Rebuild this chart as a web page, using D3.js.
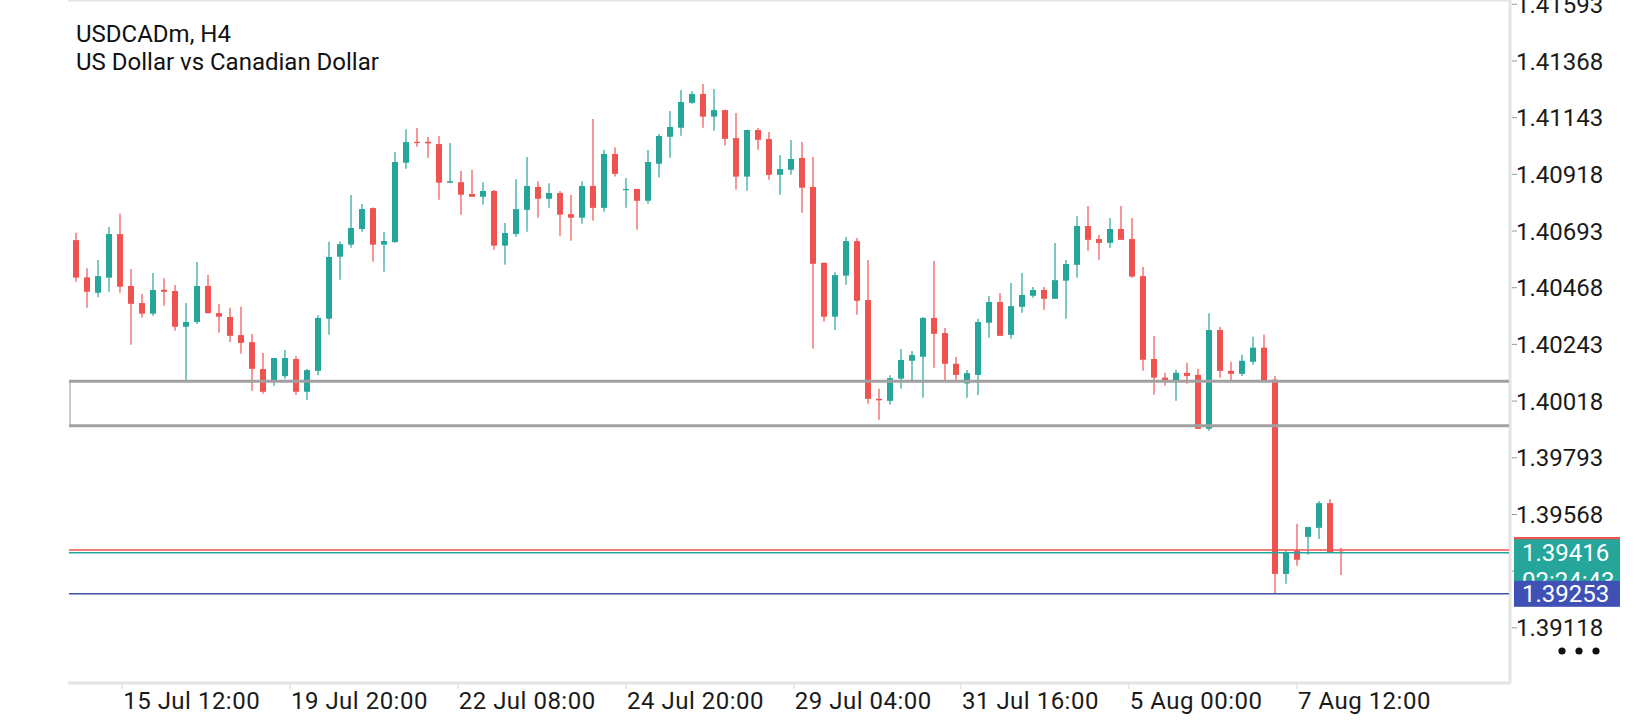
<!DOCTYPE html>
<html>
<head>
<meta charset="utf-8">
<script src="https://cdn.jsdelivr.net/npm/d3@7"></script>
<style>
  body { margin: 0; background: #fff; }
  text { font-family: Roboto, "Noto Sans", sans-serif; }
</style>
</head>
<body>
<svg class="chart" width="1640" height="720"></svg>
<script>

// USDCADm H4 candles
openP = [1.40657,1.40509,1.40448,1.40508,1.40681,1.40475,1.40407,1.40365,1.40460,1.40455,
  1.40313,1.40332,1.40475,1.40367,1.40352,1.40280,1.40252,1.40145,1.40101,1.40117,
  1.40185,1.40055,1.40138,1.40345,1.40591,1.40639,1.40701,1.40784,1.40639,1.40649,
  1.40964,1.41047,1.41047,1.41038,1.40885,1.40887,1.40840,1.40829,1.40852,1.40635,
  1.40681,1.40777,1.40868,1.40821,1.40844,1.40760,1.40746,1.40872,1.40785,1.40999,
  1.40857,1.40860,1.40813,1.40960,1.41067,1.41103,1.41202,1.41237,1.41147,1.41173,
  1.41062,1.40909,1.41094,1.41058,1.40916,1.40936,1.40983,1.40868,1.40567,1.40353,
  1.40516,1.40653,1.40419,1.40027,1.40019,1.40107,1.40178,1.40194,1.40348,1.40288,
  1.40166,1.40088,1.40122,1.40329,1.40411,1.40281,1.40392,1.40436,1.40459,1.40424,
  1.40496,1.40559,1.40713,1.40661,1.40646,1.40701,1.40661,1.40514,1.40185,1.40111,
  1.40101,1.40130,1.40122,1.39908,1.40300,1.40138,1.40126,1.40174,1.40230,1.40103,
  1.39332,1.39423,1.39479,1.39515,1.39613,1.39420]
highP = [1.40686,1.40545,1.40578,1.40709,1.40762,1.40542,1.40443,1.40526,1.40506,1.40479,
  1.40407,1.40570,1.40518,1.40403,1.40388,1.40392,1.40284,1.40209,1.40190,1.40221,
  1.40197,1.40145,1.40359,1.40650,1.40652,1.40836,1.40800,1.40786,1.40690,1.41007,
  1.41097,1.41102,1.41066,1.41070,1.41042,1.40931,1.40935,1.40887,1.40856,1.40725,
  1.40899,1.40987,1.40891,1.40883,1.40852,1.40836,1.40891,1.41138,1.41015,1.41026,
  1.40903,1.40861,1.41015,1.41078,1.41169,1.41253,1.41248,1.41277,1.41257,1.41174,
  1.41161,1.41095,1.41102,1.41086,1.40995,1.41054,1.41046,1.40987,1.40568,1.40529,
  1.40669,1.40665,1.40578,1.40067,1.40121,1.40225,1.40217,1.40352,1.40574,1.40308,
  1.40193,1.40141,1.40345,1.40435,1.40447,1.40487,1.40526,1.40471,1.40471,1.40645,
  1.40578,1.40752,1.40792,1.40677,1.40745,1.40792,1.40745,1.40550,1.40276,1.40130,
  1.40142,1.40170,1.40146,1.40367,1.40313,1.40174,1.40202,1.40273,1.40281,1.40118,
  1.39428,1.39531,1.39519,1.39621,1.39629,1.39436]
lowP = [1.40492,1.40388,1.40430,1.40452,1.40448,1.40242,1.40349,1.40357,1.40396,1.40297,
  1.40101,1.40324,1.40365,1.40289,1.40253,1.40206,1.40059,1.40047,1.40079,1.40107,
  1.40042,1.40022,1.40121,1.40281,1.40500,1.40627,1.40690,1.40571,1.40531,1.40646,
  1.40940,1.41028,1.40984,1.40817,1.40884,1.40758,1.40829,1.40797,1.40619,1.40559,
  1.40670,1.40690,1.40746,1.40785,1.40674,1.40654,1.40722,1.40734,1.40770,1.40909,
  1.40785,1.40698,1.40801,1.40905,1.40984,1.41071,1.41198,1.41103,1.41091,1.41032,
  1.40857,1.40853,1.41016,1.40897,1.40837,1.40916,1.40766,1.40226,1.40333,1.40300,
  1.40480,1.40361,1.40007,1.39944,1.40003,1.40067,1.40101,1.40031,1.40150,1.40101,
  1.40101,1.40031,1.40042,1.40269,1.40276,1.40265,1.40369,1.40428,1.40381,1.40423,
  1.40345,1.40508,1.40615,1.40579,1.40627,1.40657,1.40508,1.40138,1.40043,1.40079,
  1.40019,1.40087,1.39908,1.39900,1.40111,1.40101,1.40118,1.40162,1.40094,1.39253,
  1.39293,1.39364,1.39408,1.39471,1.39415,1.39328]
closeP = [1.40508,1.40452,1.40514,1.40681,1.40472,1.40404,1.40365,1.40459,1.40452,1.40313,
  1.40332,1.40475,1.40367,1.40353,1.40277,1.40249,1.40146,1.40055,1.40189,1.40189,
  1.40055,1.40141,1.40348,1.40590,1.40641,1.40705,1.40780,1.40639,1.40653,1.40967,
  1.41046,1.41043,1.41041,1.40885,1.40891,1.40837,1.40829,1.40852,1.40635,1.40685,
  1.40780,1.40872,1.40821,1.40844,1.40758,1.40746,1.40872,1.40785,1.40999,1.40920,
  1.40860,1.40813,1.40967,1.41070,1.41106,1.41205,1.41237,1.41147,1.41173,1.41059,
  1.40909,1.41094,1.41055,1.40916,1.40939,1.40979,1.40865,1.40563,1.40353,1.40518,
  1.40653,1.40416,1.40027,1.40021,1.40109,1.40181,1.40201,1.40348,1.40285,1.40166,
  1.40122,1.40129,1.40332,1.40411,1.40277,1.40395,1.40439,1.40459,1.40424,1.40498,
  1.40562,1.40713,1.40658,1.40646,1.40701,1.40658,1.40512,1.40182,1.40111,1.40101,
  1.40130,1.40118,1.39908,1.40300,1.40138,1.40126,1.40178,1.40230,1.40095,1.39332,
  1.39416,1.39388,1.39518,1.39613,1.39416,1.39416]

priceTicks = [1.41593,1.41368,1.41143,1.40918,1.40693,1.40468,1.40243,1.40018,1.39793,1.39568,1.39343,1.39118]
timeLabels = ['15 Jul 12:00','19 Jul 20:00','22 Jul 08:00','24 Jul 20:00','29 Jul 04:00','31 Jul 16:00','5 Aug 00:00','7 Aug 12:00']
timeAt = [4.2, 19.45, 34.7, 50, 65.25, 80.45, 95.7, 111]   // bar index under each label

zoneTop = 1.40097
zoneBottom = 1.39920
bid = 1.39416
ask = 1.39427
lowLine = 1.39253
timer = '02:24:43'

up = '#26a69a'
down = '#ef5350'
border = '#e4e4e4'

left = 69
right = 1510
top = 2
bottom = 683

svg = d3.select('.chart')

x = d3.scaleLinear().domain([0, openP.length - 1]).range([76, 76 + 11 * (openP.length - 1)])
y = d3.scaleLinear().domain([1.38899, 1.41610]).range([bottom, 0])

// frame: top, right and bottom rules
svg.append('line').attr('x1', left - 1).attr('x2', right).attr('y1', top).attr('y2', top)
  .attr('stroke', border).attr('stroke-width', 3)
svg.append('line').attr('x1', right).attr('x2', right).attr('y1', top - 1).attr('y2', bottom + 1)
  .attr('stroke', border).attr('stroke-width', 3)
svg.append('line').attr('x1', left - 1).attr('x2', right).attr('y1', bottom).attr('y2', bottom)
  .attr('stroke', border).attr('stroke-width', 3)

// candles
candles = d3.range(openP.length).map(i => ({
  i: i, o: openP[i], h: highP[i], l: lowP[i], c: closeP[i]
}))

g = svg.append('g')
g.selectAll('line.wick')
  .data(candles)
  .join('line')
    .attr('class', 'wick')
    .attr('x1', d => x(d.i)).attr('x2', d => x(d.i))
    .attr('y1', d => y(d.h)).attr('y2', d => y(d.l))
    .attr('stroke', d => d.c >= d.o ? up : down)
    .attr('stroke-width', 1.2)
g.selectAll('rect.body')
  .data(candles)
  .join('rect')
    .attr('class', 'body')
    .attr('x', d => x(d.i) - 3)
    .attr('width', 6)
    .attr('y', d => y(Math.max(d.o, d.c)))
    .attr('height', d => Math.max(1.2, Math.abs(y(d.o) - y(d.c))))
    .attr('fill', d => d.c >= d.o ? up : down)

// grey zone
svg.append('line').attr('x1', left + 1).attr('x2', left + 1)
  .attr('y1', y(zoneTop)).attr('y2', y(zoneBottom))
  .attr('stroke', '#b8b8b8').attr('stroke-width', 1.5)
;[zoneTop, zoneBottom].forEach(v => {
  svg.append('line').attr('x1', left).attr('x2', right - 1)
    .attr('y1', y(v)).attr('y2', y(v))
    .attr('stroke', '#a0a0a0').attr('stroke-width', 3)
})

// price lines
svg.append('line').attr('x1', left).attr('x2', right - 1).attr('y1', y(ask)).attr('y2', y(ask))
  .attr('stroke', down).attr('stroke-width', 1.5)
svg.append('line').attr('x1', left).attr('x2', right - 1).attr('y1', y(bid)).attr('y2', y(bid))
  .attr('stroke', up).attr('stroke-width', 1.5)
svg.append('line').attr('x1', left).attr('x2', right - 1).attr('y1', y(lowLine)).attr('y2', y(lowLine))
  .attr('stroke', '#3f51a5').attr('stroke-width', 1.5)

// price axis
ya = svg.append('g').selectAll('g')
  .data(priceTicks)
  .join('g')
    .attr('transform', d => `translate(${right},${y(d)})`)
ya.append('line').attr('x1', 2).attr('x2', 7).attr('stroke', '#9a9a9a').attr('stroke-width', 1)
ya.append('text')
  .attr('x', 6).attr('dy', '0.36em')
  .style('font-size', '24px')
  .attr('fill', '#1a1a1a')
  .text(d => d.toFixed(5))

// time axis
xa = svg.append('g').selectAll('g')
  .data(timeAt)
  .join('g')
    .attr('transform', d => `translate(${x(d)},${bottom})`)
xa.append('line').attr('y1', 1).attr('y2', 6).attr('stroke', border).attr('stroke-width', 1.5)
xa.append('text')
  .attr('x', 1).attr('y', 26)
  .style('font-size', '24px').style('letter-spacing', '0.5px')
  .attr('fill', '#1a1a1a')
  .text((d, i) => timeLabels[i])

// ask / bid / low labels on the price scale
svg.append('rect').attr('x', right + 4).attr('y', y(ask) - 13).attr('width', 106).attr('height', 26).attr('fill', down)
svg.append('rect').attr('x', right + 4).attr('y', y(bid) - 13.5).attr('width', 106).attr('height', 60).attr('fill', up)
svg.append('text').attr('x', right + 12).attr('y', y(bid)).attr('dy', '0.36em')
  .style('font-size', '24px').attr('fill', '#fff').text(bid.toFixed(5))
svg.append('text').attr('x', right + 12).attr('y', y(bid) + 36)
  .style('font-size', '24px').attr('fill', '#fff').text(timer)
svg.append('rect').attr('x', right + 4).attr('y', y(lowLine) - 13).attr('width', 106).attr('height', 26).attr('fill', '#3f51b5')
svg.append('text').attr('x', right + 12).attr('y', y(lowLine)).attr('dy', '0.36em')
  .style('font-size', '24px').attr('fill', '#fff').text(lowLine.toFixed(5))

// menu dots
svg.append('g').selectAll('circle')
  .data([0, 1, 2])
  .join('circle')
    .attr('cx', d => 1562 + 17 * d).attr('cy', 651).attr('r', 3.6).attr('fill', '#111')

// title
svg.append('text').attr('x', 76).attr('y', 42).style('font-size', '24px').attr('fill', '#111').text('USDCADm, H4')
svg.append('text').attr('x', 76).attr('y', 70).style('font-size', '24px').attr('fill', '#111').text('US Dollar vs Canadian Dollar')

</script>
</body>
</html>
